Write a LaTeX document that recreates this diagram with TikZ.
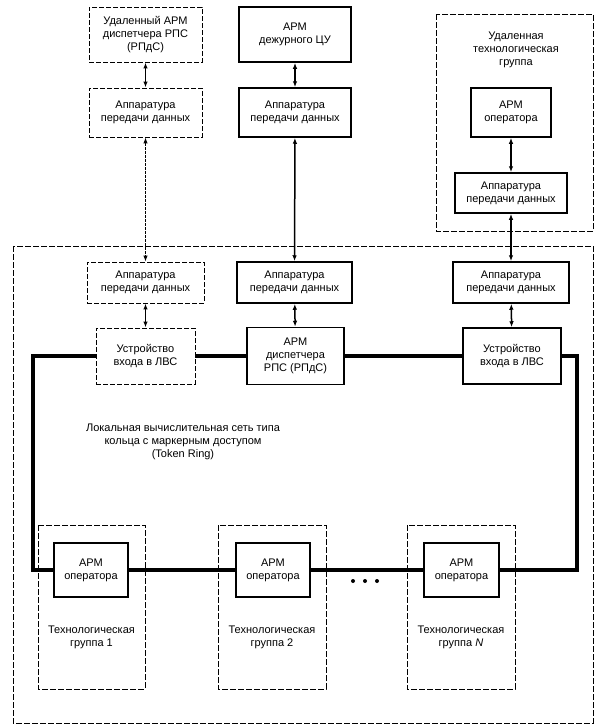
\documentclass[tikz,border=0pt]{standalone}
\usepackage{fontspec}
\setmainfont{Liberation Sans}
\usetikzlibrary{arrows.meta,positioning}
\newcommand{\txtfont}{\fontsize{11}{13.2}\selectfont}
\tikzset{
  blk/.style={draw, line width=1.5pt, align=center, inner sep=1pt, font=\txtfont},
  dblk/.style={draw, line width=0.9pt, dash pattern=on 5pt off 2pt, align=center,
               inner sep=1pt, font=\txtfont},
  grp/.style={draw, line width=0.9pt, dash pattern=on 6pt off 2pt},
  glab/.style={align=center, font=\txtfont},
  lnk/.style={{Latex[length=6pt,width=4.5pt]}-{Latex[length=6pt,width=4.5pt]}, line width=1.5pt},
  dlnk/.style={{Latex[length=6pt,width=4.5pt]}-{Latex[length=6pt,width=4.5pt]}, line width=1pt,
               dash pattern=on 3pt off 1pt},
  ring/.style={line width=4.2pt, line join=miter},
  dot/.style={circle, fill, inner sep=0pt, minimum size=4pt},
}

\begin{document}
\begin{tikzpicture}[x=1pt, y=-1pt]
    \useasboundingbox (0,0) rectangle (605,728);
    % outer frames
    \draw[grp] (13,246) rectangle (593,723);
    \draw[grp] (436,14) rectangle (593,231);
    \draw[grp] (38,525) rectangle (145,689);
    \draw[grp] (218,525) rectangle (326,689);
    \draw[grp] (407,525) rectangle (515,689);
    % remote part
    \node[dblk, minimum width=113pt, minimum height=55pt] (rarm) at (145.5,34.5)
         {Удаленный АРМ\\диспетчера РПС\\(РПдС)};
    \node[dblk, minimum width=113pt, minimum height=49pt] (rapd) at (145.5,112.5)
         {Аппаратура\\передачи данных};
    \node[blk, minimum width=112pt, minimum height=55pt] (duty) at (295,34.5)
         {АРМ\\дежурного ЦУ};
    \node[blk, minimum width=112pt, minimum height=49pt] (dapd) at (295,112.5)
         {Аппаратура\\передачи данных};
    \node[glab] (rgrp) at (516,50) {Удаленная\\технологическая\\группа};
    \node[blk, minimum width=80pt, minimum height=49pt] (rop) at (511,112.5)
         {АРМ\\оператора};
    \node[blk, minimum width=112pt, minimum height=40pt] (ropd) at (511,193)
         {Аппаратура\\передачи данных};
    % local part
    \node[dblk, minimum width=117pt, minimum height=41pt] (lapd) at (145.5,282.5)
         {Аппаратура\\передачи данных};
    \node[blk, minimum width=115pt, minimum height=41pt] (mapd) at (294.5,282.5)
         {Аппаратура\\передачи данных};
    \node[blk, minimum width=116pt, minimum height=41pt] (napd) at (511,282.5)
         {Аппаратура\\передачи данных};
    \node[dblk, minimum width=99pt, minimum height=56pt] (lvs1) at (145.5,356)
         {Устройство\\входа в ЛВС};
    \node[blk, minimum width=97pt, minimum height=57pt] (disp) at (295.5,356)
         {АРМ\\диспетчера\\РПС (РПдС)};
    \node[blk, minimum width=98pt, minimum height=56pt] (lvs2) at (512,356)
         {Устройство\\входа в ЛВС};
    \node[glab] (net) at (183,442)
         {Локальная вычислительная сеть типа\\кольца с маркерным доступом\\(Token Ring)};
    \node[blk, minimum width=74pt, minimum height=54pt] (op1) at (91,570) {АРМ\\оператора};
    \node[blk, minimum width=74pt, minimum height=54pt] (op2) at (273,570) {АРМ\\оператора};
    \node[blk, minimum width=75pt, minimum height=54pt] (opn) at (461.5,570) {АРМ\\оператора};
    \node[glab] (g1) at (91.5,637) {Технологическая\\группа 1};
    \node[glab] (g2) at (272,637) {Технологическая\\группа 2};
    \node[glab] (gn) at (461,637) {Технологическая\\группа \textit{N}};
    \node[dot] (d1) at (353,581) {};
    \node[dot] (d2) at (365,581) {};
    \node[dot] (d3) at (377,581) {};
    % links
    \draw[lnk] (rarm) -- (rapd);
    \draw[dlnk] (rapd) -- (lapd);
    \draw[lnk] (duty) -- (dapd);
    \draw[lnk] (dapd) -- (mapd);
    \draw[lnk] (rop) -- (ropd);
    \draw[lnk] (ropd) -- (napd);
    \draw[lnk] (lapd) -- (lvs1);
    \draw[lnk] (mapd) -- (disp);
    \draw[lnk] (napd) -- (lvs2);
    % ring
    \coordinate (rtl) at (33,356);
    \coordinate (rbl) at (33,570);
    \coordinate (rtr) at (577,356);
    \coordinate (rbr) at (577,570);
    \draw[ring] (lvs1.west) -- (rtl) -- (rbl) -- (op1.west);
    \draw[ring] (op1) -- (op2);
    \draw[ring] (op2) -- (opn);
    \draw[ring] (opn.east) -- (rbr) -- (rtr) -- (lvs2.east);
    \draw[ring] (lvs1) -- (disp);
    \draw[ring] (disp) -- (lvs2);
\end{tikzpicture}
\end{document}
